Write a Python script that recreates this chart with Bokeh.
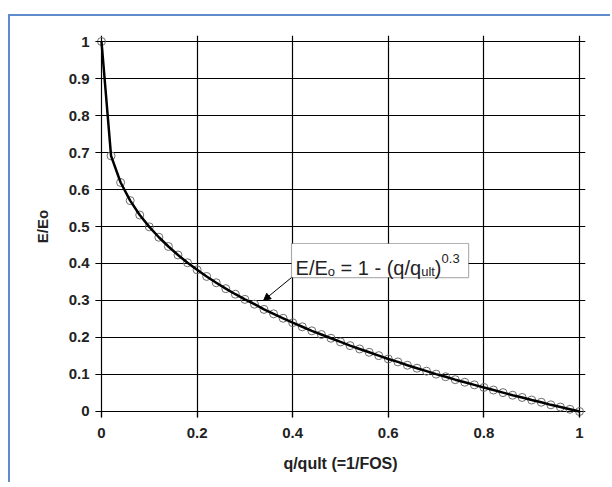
from bokeh.plotting import figure
from bokeh.models import (Range1d, FixedTicker, BoxAnnotation, Label, Arrow, NormalHead)
from bokeh.embed import file_html
from bokeh.resources import INLINE

# ---- data ----
x_vals = [0.00, 0.02, 0.04, 0.06, 0.08, 0.10, 0.12, 0.14, 0.16, 0.18,
          0.20, 0.22, 0.24, 0.26, 0.28, 0.30, 0.32, 0.34, 0.36, 0.38,
          0.40, 0.42, 0.44, 0.46, 0.48, 0.50, 0.52, 0.54, 0.56, 0.58,
          0.60, 0.62, 0.64, 0.66, 0.68, 0.70, 0.72, 0.74, 0.76, 0.78,
          0.80, 0.82, 0.84, 0.86, 0.88, 0.90, 0.92, 0.94, 0.96, 0.98, 1.00]
y_vals = [1.000, 0.691, 0.619, 0.570, 0.531, 0.499, 0.471, 0.446, 0.423, 0.402,
          0.383, 0.365, 0.348, 0.332, 0.317, 0.303, 0.290, 0.276, 0.264, 0.252,
          0.240, 0.229, 0.218, 0.208, 0.198, 0.188, 0.178, 0.169, 0.160, 0.151,
          0.142, 0.134, 0.125, 0.117, 0.109, 0.101, 0.094, 0.086, 0.079, 0.072,
          0.065, 0.058, 0.051, 0.044, 0.038, 0.031, 0.025, 0.018, 0.012, 0.006, 0.000]
x_ticks = [0, 0.2, 0.4, 0.6, 0.8, 1]
x_tick_labels = ["0", "0.2", "0.4", "0.6", "0.8", "1"]
y_ticks = [0, 0.1, 0.2, 0.3, 0.4, 0.5, 0.6, 0.7, 0.8, 0.9, 1]
y_tick_labels = ["0", "0.1", "0.2", "0.3", "0.4", "0.5", "0.6", "0.7", "0.8", "0.9", "1"]
x_title = "q/qult (=1/FOS)"
y_title = "E/Eo"

FONT = "Liberation Sans"

p = figure(width=602, height=468,
           x_range=Range1d(-0.01255, 1.01255), y_range=Range1d(-0.01622, 1.01622),
           min_border_left=85, min_border_right=27, min_border_top=19, min_border_bottom=67,
           output_backend="svg", toolbar_location=None)
p.margin = (14, 0, 0, 8)
p.styles = {"border-top": "2px solid #5f8ccc", "border-left": "2px solid #5f8ccc"}
p.outline_line_color = None
p.background_fill_color = "white"
p.border_fill_color = "white"

for grid, ticks in ((p.xgrid, x_ticks), (p.ygrid, y_ticks)):
    grid.ticker = FixedTicker(ticks=ticks)
    grid.bounds = (0, 1)
    grid.grid_line_color = "black"
    grid.grid_line_width = 1.2

for axis, ticks, labels in ((p.xaxis[0], x_ticks, x_tick_labels), (p.yaxis[0], y_ticks, y_tick_labels)):
    axis.ticker = FixedTicker(ticks=ticks)
    axis.major_label_overrides = dict(zip(ticks, labels))
    axis.bounds = (0, 1)
    axis.axis_line_color = None
    axis.major_tick_in = 6
    axis.major_tick_out = 0
    axis.major_tick_line_color = "black"
    axis.major_tick_line_width = 1.2
    axis.minor_tick_line_color = None
    axis.major_label_text_font = FONT
    axis.major_label_text_font_style = "bold"
    axis.major_label_text_font_size = "15px"
    axis.major_label_text_color = "#222222"
    axis.axis_label_text_font = FONT
    axis.axis_label_text_font_style = "bold"
    axis.axis_label_text_color = "#222222"

p.xaxis.axis_label = x_title
p.xaxis.axis_label_text_font_size = "16px"
p.xaxis.major_label_standoff = 10
p.xaxis.axis_label_standoff = 14
p.yaxis.axis_label = y_title
p.yaxis.axis_label_text_font_size = "15px"
p.yaxis.major_label_standoff = 6
p.yaxis.axis_label_standoff = 15

p.scatter(x_vals, y_vals, marker="circle", size=8, fill_color=None,
          line_color="#6e6e6e", line_width=1)
p.line(x_vals, y_vals, line_color="black", line_width=2.5)

# callout box
p.add_layout(BoxAnnotation(left=0.3975, right=0.768, top=0.454, bottom=0.362,
                           fill_color="white", fill_alpha=1.0,
                           line_color="black", line_width=1.2))
lx, ly = 0.406, 0.389
pieces = [("E/E", 0, 0, "20px"), ("o", 32.2, -4, "13px"),
          ("= 1 - (q/q", 45.0, 0, "20px"), ("ult", 125.6, -4, "13px"),
          (")", 139.3, 0, "20px"), ("0.3", 146.0, 9.5, "13px")]
for txt, dx, dy, fs in pieces:
    p.add_layout(Label(x=lx, y=ly, x_offset=dx, y_offset=dy, text=txt,
                       text_font=FONT, text_font_size=fs, text_color="#222222",
                       text_baseline="alphabetic", text_align="left"))
p.add_layout(Arrow(end=NormalHead(size=7, fill_color="black", line_color="black"),
                   x_start=0.3975, y_start=0.362, x_end=0.339, y_end=0.300,
                   line_color="black", line_width=1))

open("out.html", "w").write(file_html(p, INLINE))
